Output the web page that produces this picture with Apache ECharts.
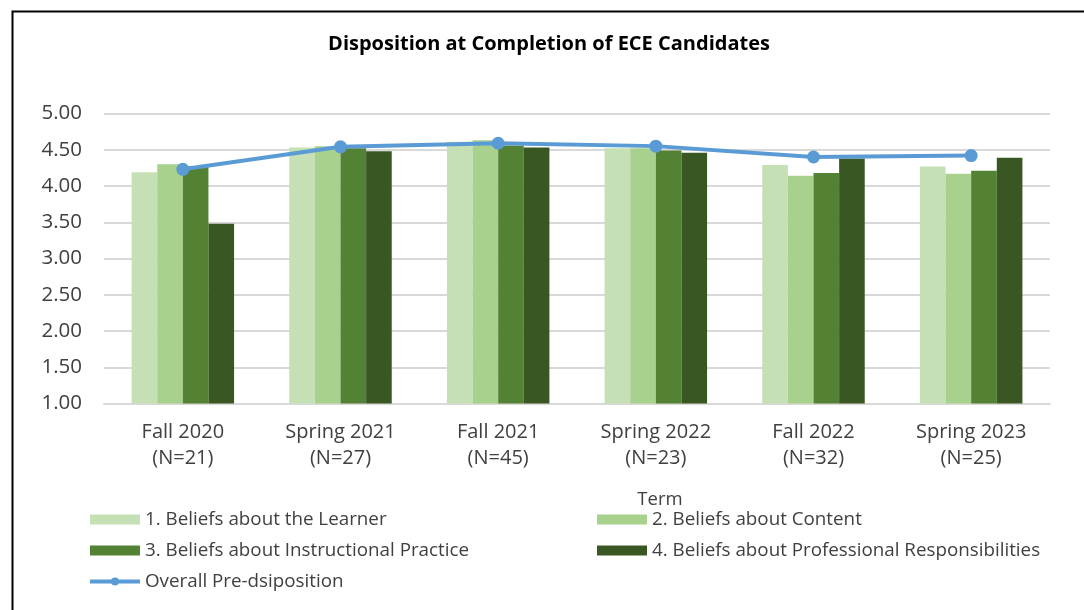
<!DOCTYPE html>
<html>
<head>
<meta charset="utf-8">
<script src="https://cdn.jsdelivr.net/npm/echarts@6/dist/echarts.min.js"></script>
<style>html,body{margin:0;padding:0;background:#fff}#c{width:1084px;height:610px}</style>
</head>
<body>
<div id="c"></div>
<script>
const categories = ['Fall 2020\n(N=21)', 'Spring 2021\n(N=27)', 'Fall 2021\n(N=45)', 'Spring 2022\n(N=23)', 'Fall 2022\n(N=32)', 'Spring 2023\n(N=25)'];
const learner = [4.19, 4.53, 4.61, 4.52, 4.29, 4.27];
const content = [4.30, 4.55, 4.63, 4.52, 4.14, 4.17];
const instructional = [4.27, 4.52, 4.56, 4.49, 4.18, 4.21];
const professional = [3.48, 4.48, 4.53, 4.46, 4.38, 4.39];
const overall = [4.23, 4.54, 4.59, 4.55, 4.40, 4.42];
const seriesNames = ['1. Beliefs about the Learner', '2. Beliefs about Content', '3. Beliefs about Instructional Practice', '4. Beliefs about Professional Responsibilities', 'Overall Pre-dsiposition'];

const FONT = 'Open Sans';
const TXT = '#404040';
const chart = echarts.init(document.getElementById('c'));
const barColors = ['#C5E0B4', '#A9D18E', '#548235', '#385723'];
const barData = [learner, content, instructional, professional];

const series = barData.map((d, i) => ({
  name: seriesNames[i], type: 'bar', data: d,
  barGap: '0%', barCategoryGap: '35%',
  itemStyle: { color: barColors[i] }
}));
series.push({
  name: seriesNames[4], type: 'line', data: overall,
  symbol: 'circle', symbolSize: 13,
  lineStyle: { color: '#5B9BD5', width: 4 },
  itemStyle: { color: '#5B9BD5' },
  z: 5
});

const legendCommon = {
  orient: 'vertical', itemWidth: 50, itemHeight: 10, itemGap: 12, padding: 0, itemTextGap: 6,
  textStyle: { fontFamily: FONT, fontSize: 18.8, color: TXT }
};

chart.setOption({
  animation: false,
  textStyle: { fontFamily: FONT },
  title: [{
    text: 'Disposition at Completion of ECE Candidates',
    left: 544, top: 29, textAlign: 'center',
    textStyle: { fontFamily: FONT, fontSize: 20, fontWeight: 'bold', color: '#000' }
  }, {
    text: 'Term', left: 655, top: 485, textAlign: 'center',
    textStyle: { fontFamily: FONT, fontSize: 18.5, fontWeight: 'normal', color: TXT }
  }],
  grid: { left: 104, right: 34, top: 113.5, bottom: 206.5 },
  xAxis: {
    type: 'category', data: categories,
    axisLine: { lineStyle: { color: '#d9d9d9', width: 2 } },
    axisTick: { show: false },
    axisLabel: { fontFamily: FONT, fontSize: 20, color: TXT, lineHeight: 26, margin: 16 }
  },
  yAxis: {
    type: 'value', min: 1, max: 5, interval: 0.5,
    axisLine: { show: false }, axisTick: { show: false },
    splitLine: { lineStyle: { color: '#d9d9d9', width: 2 } },
    axisLabel: { fontFamily: FONT, fontSize: 20.5, color: TXT, margin: 22, formatter: v => v.toFixed(2) }
  },
  legend: [
    Object.assign({}, legendCommon, {
      left: 88, top: 510,
      data: [{ name: seriesNames[0], icon: 'rect' }, { name: seriesNames[2], icon: 'rect' },
             { name: seriesNames[4], lineStyle: { width: 4 }, itemStyle: { color: '#5B9BD5' } }]
    }),
    Object.assign({}, legendCommon, {
      left: 597, top: 510,
      data: [{ name: seriesNames[1], icon: 'rect' }, { name: seriesNames[3], icon: 'rect' }]
    })
  ],
  graphic: [{
    type: 'rect', left: 10, top: 9, shape: { x: 0, y: 0, width: 1073, height: 620 },
    style: { fill: 'none', stroke: '#000', lineWidth: 2 }, silent: true
  }],
  series: series
});
</script>
</body>
</html>
